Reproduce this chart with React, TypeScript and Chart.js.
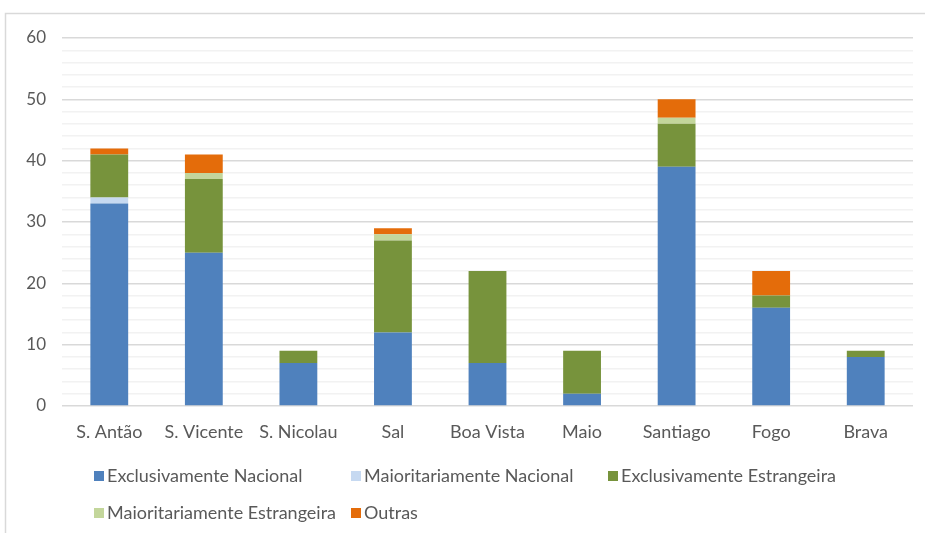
import React, { useEffect, useRef } from "react";
import { Chart, registerables } from "chart.js";

Chart.register(...registerables);

const categories = ["S. Antão", "S. Vicente", "S. Nicolau", "Sal", "Boa Vista", "Maio", "Santiago", "Fogo", "Brava"];
const seriesNames = [
  "Exclusivamente Nacional",
  "Maioritariamente Nacional",
  "Exclusivamente Estrangeira",
  "Maioritariamente Estrangeira",
  "Outras",
];
const exclusivamenteNacional = [33, 25, 7, 12, 7, 2, 39, 16, 8];
const maioritariamenteNacional = [1, 0, 0, 0, 0, 0, 0, 0, 0];
const exclusivamenteEstrangeira = [7, 12, 2, 15, 15, 7, 7, 2, 1];
const maioritariamenteEstrangeira = [0, 1, 0, 1, 0, 0, 1, 0, 0];
const outras = [1, 3, 0, 1, 0, 0, 3, 4, 0];
const seriesColors = ["#4F81BD", "#C6D9F1", "#77933C", "#C3D69B", "#E46C0A"];
const yMin = 0;
const yMax = 60;

const FONT = "Lato, 'Open Sans', sans-serif";
const TEXT = "#595959";

const framePlugin = {
  id: "frame",
  beforeDraw(chart: any) {
    const ctx = chart.ctx;
    ctx.save();
    ctx.strokeStyle = "#d9d9d9";
    ctx.lineWidth = 1.5;
    ctx.beginPath();
    ctx.moveTo(5.5, chart.height);
    ctx.lineTo(5.5, 13.5);
    ctx.lineTo(chart.width, 13.5);
    ctx.stroke();
    ctx.restore();
  },
};

const legendPlugin = {
  id: "columnLegend",
  afterDraw(chart: any) {
    const ctx = chart.ctx;
    const startX = 94;
    const colW = 257;
    const rowY = [476, 513];
    const perRow = 3;
    const box = 10;
    ctx.save();
    ctx.font = `18px ${FONT}`;
    ctx.textBaseline = "middle";
    ctx.textAlign = "left";
    let x = startX;
    let row = 0;
    chart.data.datasets.forEach((ds: any, i: number) => {
      const r = Math.floor(i / perRow);
      if (r !== row) {
        row = r;
        x = startX;
      }
      const y = rowY[row];
      ctx.fillStyle = ds.backgroundColor;
      ctx.fillRect(x, y - box / 2, box, box);
      ctx.fillStyle = TEXT;
      ctx.fillText(ds.label, x + box + 3, y);
      const w = box + 3 + ctx.measureText(ds.label).width;
      x = x + Math.max(colW, w + 7);
    });
    ctx.restore();
  },
};

export default function App() {
  const ref = useRef<HTMLCanvasElement | null>(null);
  useEffect(() => {
    if (!ref.current) return;
    const values = [
      exclusivamenteNacional,
      maioritariamenteNacional,
      exclusivamenteEstrangeira,
      maioritariamenteEstrangeira,
      outras,
    ];
    const chart = new Chart(ref.current, {
      type: "bar",
      data: {
        labels: categories,
        datasets: values.map((v, i) => ({
          label: seriesNames[i],
          data: v,
          backgroundColor: seriesColors[i],
          borderWidth: 0,
          categoryPercentage: 1,
          barPercentage: 0.4,
        })),
      },
      options: {
        responsive: false,
        animation: false,
        devicePixelRatio: 1,
        layout: { padding: { left: 0, top: 38, right: 12, bottom: 0 } },
        plugins: {
          legend: { display: false },
          tooltip: { enabled: false },
        },
        scales: {
          x: {
            stacked: true,
            grid: { display: false, drawTicks: false },
            border: { display: false },
            ticks: { color: TEXT, font: { family: FONT, size: 18 }, padding: 15, maxRotation: 0 },
            afterFit(scale: any) {
              scale.height = 127;
            },
          },
          y: {
            stacked: true,
            min: yMin,
            max: yMax,
            grid: {
              drawTicks: false,
              color: (c: any) => (c.tick && c.tick.value % 10 === 0 ? "#d9d9d9" : "#f2f2f2"),
              lineWidth: 1.5,
            },
            border: { display: false },
            ticks: {
              stepSize: 2,
              autoSkip: false,
              padding: 16,
              color: TEXT,
              font: { family: FONT, size: 17 },
              callback: (v: any) => (Number(v) % 10 === 0 ? String(v) : ""),
            },
            afterFit(scale: any) {
              scale.width = 62;
            },
          },
        },
      },
      plugins: [framePlugin, legendPlugin],
    });
    return () => chart.destroy();
  }, []);
  return (
    <div style={{ position: "absolute", left: 0, top: 0, width: 925, height: 533, background: "#fff" }}>
      <canvas ref={ref} width={925} height={533} style={{ width: 925, height: 533, display: "block" }} />
    </div>
  );
}
